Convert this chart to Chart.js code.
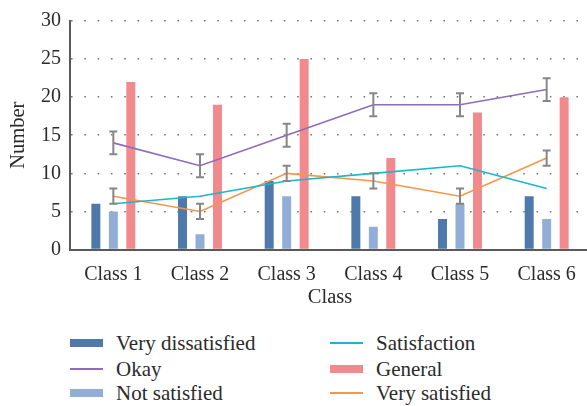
<!DOCTYPE html>
<html>
<head>
<meta charset="utf-8">
<script src="https://cdn.jsdelivr.net/npm/chart.js@4"></script>
<style>
  html, body { margin: 0; padding: 0; background: #fff; overflow: hidden; }
  #wrap { position: relative; width: 587px; height: 406px; overflow: hidden; }
  #chart { position: absolute; left: 0; top: 0; }
  .item { position: absolute; height: 25px; display: flex; align-items: center; white-space: nowrap;
          font-family: "Liberation Serif", serif; font-size: 21px; color: #2b2b2b; }
  .sw { display: inline-block; width: 33px; margin-right: 13px; }
</style>
</head>
<body>
<div id="wrap">
  <canvas id="chart" width="592" height="310"></canvas>
  <div id="legend"></div>
</div>
<script>
// data
const classes = ['Class 1', 'Class 2', 'Class 3', 'Class 4', 'Class 5', 'Class 6'];
const veryDissatisfied = [6, 7, 9, 7, 4, 7];
const notSatisfied = [5, 2, 7, 3, 6, 4];
const general = [22, 19, 25, 12, 18, 20];
const okay = [14, 11, 15, 19, 19, 21];
const okayErr = [1.5, 1.5, 1.5, 1.5, 1.5, 1.5];
const satisfaction = [6, 7, 9, 10, 11, 8];
const verySatisfied = [7, 5, 10, 9, 7, 12];
const verySatisfiedErr = [1, 1, 1, 1, 1, 1];
const yMin = 0, yMax = 30, yStep = 5;

const serif = 'Liberation Serif';
const textColor = '#2b2b2b';

// legend is two columns, read top to bottom
const legendColumns = [
  ['Very dissatisfied', 'Okay', 'Not satisfied'],
  ['Satisfaction', 'General', 'Very satisfied']
];

const errorBars = {
  id: 'errorBars',
  afterDatasetsDraw(chart) {
    const ctx = chart.ctx;
    const y = chart.scales.y;
    chart.data.datasets.forEach((ds, i) => {
      if (!ds.errorBars) return;
      chart.getDatasetMeta(i).data.forEach((pt, j) => {
        const e = ds.errorBars[j];
        if (!e) return;
        const top = y.getPixelForValue(ds.data[j] + e);
        const bot = y.getPixelForValue(ds.data[j] - e);
        ctx.save();
        ctx.strokeStyle = '#868686';
        ctx.lineWidth = 2;
        ctx.beginPath();
        ctx.moveTo(pt.x, top); ctx.lineTo(pt.x, bot);
        ctx.moveTo(pt.x - 4, top); ctx.lineTo(pt.x + 4, top);
        ctx.moveTo(pt.x - 4, bot); ctx.lineTo(pt.x + 4, bot);
        ctx.stroke();
        ctx.restore();
      });
    });
  }
};

const barOpts = { type: 'bar', order: 1, barPercentage: 0.514, categoryPercentage: 0.605, borderWidth: 0 };
const lineOpts = { type: 'line', order: 0, borderWidth: 1.6, pointRadius: 0, tension: 0, fill: false };

const chart = new Chart(document.getElementById('chart'), {
  data: {
    labels: classes,
    datasets: [
      { ...barOpts, label: 'Very dissatisfied', data: veryDissatisfied, backgroundColor: '#4f79ab' },
      { ...barOpts, label: 'Not satisfied', data: notSatisfied, backgroundColor: '#93aed6' },
      { ...barOpts, label: 'General', data: general, backgroundColor: '#f08a8c' },
      { ...lineOpts, label: 'Okay', data: okay, borderColor: '#8e6bbc', errorBars: okayErr },
      { ...lineOpts, label: 'Satisfaction', data: satisfaction, borderColor: '#1bb6ce' },
      { ...lineOpts, label: 'Very satisfied', data: verySatisfied, borderColor: '#f7954a', errorBars: verySatisfiedErr }
    ]
  },
  options: {
    responsive: false,
    animation: false,
    devicePixelRatio: 1,
    layout: { padding: { top: 17, right: 2, left: 0, bottom: 0 } },
    plugins: { legend: { display: false }, tooltip: { enabled: false } },
    scales: {
      x: {
        offset: true,
        grid: { display: false },
        border: { display: true, color: '#5a5a5a', width: 2 },
        ticks: { color: textColor, font: { family: serif, size: 20 }, padding: 5, maxRotation: 0 },
        title: { display: true, text: 'Class', color: textColor, font: { family: serif, size: 20.5 }, padding: 0 },
        afterFit: s => { s.height = 60.5; }
      },
      y: {
        min: yMin, max: yMax,
        grid: { color: '#777', lineWidth: 1.6, drawTicks: false },
        border: { display: true, color: '#5a5a5a', width: 2, dash: [1.6, 11.7] },
        ticks: { stepSize: yStep, color: textColor, font: { family: serif, size: 20 }, padding: 9 },
        title: { display: true, text: 'Number', color: textColor, font: { family: serif, size: 20.5 }, padding: { top: 6, bottom: 0 } },
        afterFit: s => { s.width = 70; }
      }
    }
  },
  plugins: [errorBars]
});

// legend built from the chart's own datasets
const legend = document.getElementById('legend');
const colLeft = [70, 330];
const rowMid = [343, 369, 393];
legendColumns.forEach((col, c) => {
  col.forEach((label, r) => {
    const ds = chart.data.datasets.find(d => d.label === label);
    const item = document.createElement('div');
    item.className = 'item';
    item.style.left = colLeft[c] + 'px';
    item.style.top = (rowMid[r] - 12.5) + 'px';
    const sw = document.createElement('span');
    sw.className = 'sw';
    if (ds.type === 'bar') {
      sw.style.height = '8px';
      sw.style.background = ds.backgroundColor;
    } else {
      sw.style.height = '2px';
      sw.style.background = ds.borderColor;
    }
    item.appendChild(sw);
    item.appendChild(document.createTextNode(label));
    legend.appendChild(item);
  });
});
</script>
</body>
</html>
